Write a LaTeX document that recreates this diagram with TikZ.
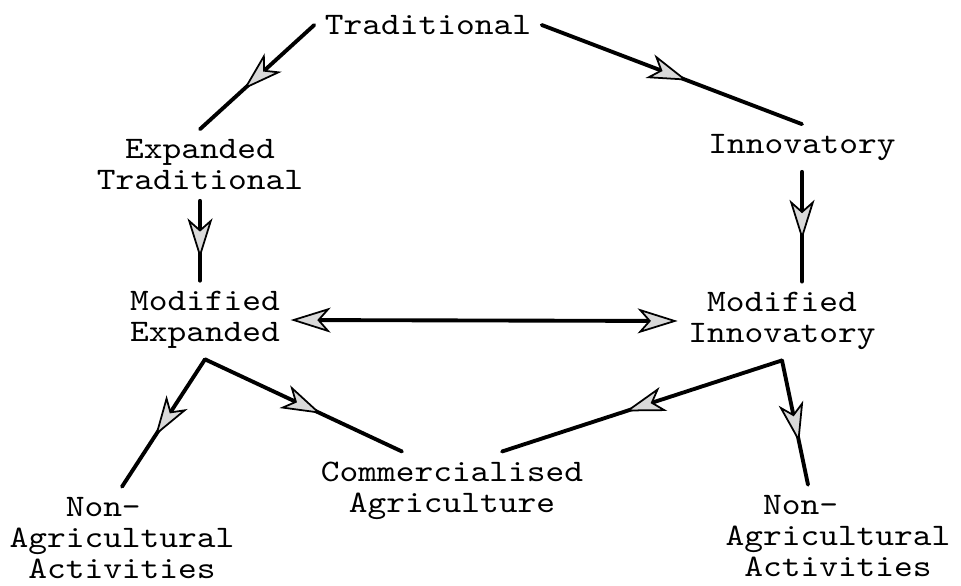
\documentclass[tikz,border=0pt]{standalone}
\usepackage{fontspec}
\newfontfamily\typewriter{lmmono10-regular.otf}[FakeStretch=1.14]
\usetikzlibrary{arrows.meta,decorations.markings}
\tikzset{
    typetip/.tip = {Stealth[length=4mm, width=2.5mm, inset=1.1mm, fill=gray!30, line width=0.5pt]},
    stage/.style = {
        font=\typewriter\fontsize{8.9}{8.8}\selectfont,
        align=center,
        inner sep=1mm
    },
    flow/.style = {
        line width=1.1pt,
        line cap=round,
        postaction={decorate},
        decoration={markings, mark=at position #1 with {\arrow{typetip}}}
    },
    flow/.default = 0.6,
    both/.style = {
        line width=1.1pt,
        arrows={typetip-typetip}
    }
}

\begin{document}
\begin{tikzpicture}[x=0.01cm, y=-0.01cm]
    \useasboundingbox (0,0) rectangle (961,585);

    % Draw all stages
    \node[stage] (trad)   at (428,25)  {Traditional};
    \node[stage] (extrad) at (200,165) {Expanded\\Traditional};
    \node[stage] (innov)  at (802,148) {Innovatory};
    \node[stage] (modexp) at (205,320) {Modified\\Expanded};
    \node[stage] (modinn) at (782,321) {Modified\\Innovatory};
    \node[stage] (comm)   at (452,491) {Commercialised\\Agriculture};
    \node[stage] (nonl)   at (122,538) {Non-\phantom{xx}\\Agricultural\\Activities};
    \node[stage] (nonr)   at (838,536) {Non-\phantom{xxxx}\\Agricultural\\Activities};

    % Draw connections
    \draw[flow=0.62] (trad.west) -- (extrad.north);
    \draw[flow=0.56] (trad.east) -- (innov.north);
    \draw[flow=0.72] (extrad.south) -- (extrad.south |- modexp.north);
    \draw[flow=0.62] (innov.south) -- (innov.south |- modinn.north);
    \draw[both] (modexp.east) -- (modinn.west);
    \draw[flow]      (modexp.south) -- (nonl.north);
    \draw[flow=0.59] (modexp.south) -- ([xshift=-5mm]comm.north);
    \draw[flow=0.56] (modinn.south) -- ([xshift=5mm]comm.north);
    \draw[flow=0.66] (modinn.south) -- ([xshift=-3mm]nonr.north);
\end{tikzpicture}
\end{document}
